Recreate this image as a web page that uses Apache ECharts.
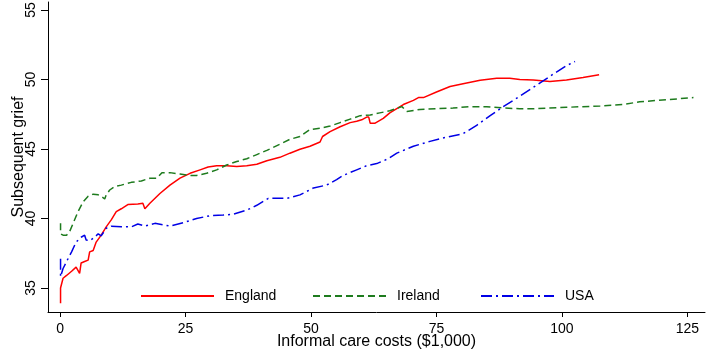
<!DOCTYPE html>
<html>
<head>
<meta charset="utf-8">
<script src="https://cdn.jsdelivr.net/npm/echarts@6/dist/echarts.min.js"></script>
<style>html,body{margin:0;padding:0;background:#fff}#c{width:709px;height:352px}</style>
</head>
<body>
<div id="c"></div>
<script>
const xTicks = [0, 25, 50, 75, 100, 125];
const yTicks = [35, 40, 45, 50, 55];

const englandX = [0.1, 0.1, 0.6, 1.3, 2.3, 3.2, 3.9, 4.2, 4.9, 5.6, 5.9, 6.6, 7.2, 8.2, 9.2, 10.2, 11.2, 12.2, 13.5, 15.5, 16.5, 16.9, 17.9, 19.9, 21.9, 23.9, 25.9, 27.9, 29.5, 31.2, 33.2, 35.2, 37.2, 39.2, 41.2, 43.8, 45.8, 47.8, 49.8, 51.8, 52.3, 53.8, 55.8, 57.8, 59.1, 60.1, 61.1, 61.5, 61.8, 62.7, 64.4, 65.7, 68.4, 70.4, 71.4, 72.4, 75.0, 77.7, 80.3, 83.7, 87.0, 89.6, 91.6, 94.3, 97.6, 100.9, 104.2, 107.4];
const englandY = [33.9, 35.0, 35.7, 35.9, 36.2, 36.5, 36.05, 36.8, 36.9, 37.0, 37.6, 37.7, 38.3, 38.8, 39.4, 39.9, 40.5, 40.7, 41.0, 41.05, 41.1, 40.7, 41.1, 41.8, 42.4, 42.9, 43.25, 43.5, 43.7, 43.8, 43.8, 43.75, 43.8, 43.9, 44.15, 44.4, 44.7, 44.98, 45.2, 45.5, 45.9, 46.25, 46.6, 46.9, 47.0, 47.1, 47.3, 47.3, 46.85, 46.85, 47.2, 47.6, 48.2, 48.5, 48.7, 48.7, 49.1, 49.5, 49.7, 49.95, 50.1, 50.1, 50.0, 49.96, 49.85, 49.96, 50.15, 50.35];

const irelandX = [0.1, 0.1, 0.6, 1.3, 1.9, 2.6, 3.6, 4.6, 5.6, 6.6, 7.6, 8.2, 8.9, 9.2, 9.9, 10.9, 12.2, 14.2, 16.2, 17.9, 19.3, 20.3, 21.9, 23.9, 25.9, 27.2, 29.2, 31.2, 33.2, 35.2, 37.2, 39.2, 41.2, 43.8, 45.8, 47.8, 49.8, 51.8, 53.8, 55.8, 57.8, 59.8, 61.8, 63.7, 65.7, 68.1, 69.1, 71.7, 75.0, 78.3, 81.7, 85.0, 88.3, 91.6, 94.3, 100.9, 107.6, 112.2, 115.5, 120.9, 126.2];
const irelandY = [39.65, 38.9, 38.8, 38.8, 39.05, 39.65, 40.5, 41.2, 41.6, 41.75, 41.7, 41.6, 41.4, 41.7, 42.05, 42.3, 42.4, 42.6, 42.7, 42.9, 42.9, 43.3, 43.3, 43.2, 43.1, 43.1, 43.25, 43.5, 43.85, 44.1, 44.3, 44.6, 44.9, 45.35, 45.7, 45.9, 46.4, 46.5, 46.65, 46.9, 47.15, 47.4, 47.45, 47.6, 47.75, 48.05, 47.7, 47.85, 47.9, 47.95, 48.05, 48.05, 47.95, 47.9, 47.9, 48.0, 48.1, 48.2, 48.4, 48.55, 48.7];

const usaX = [0.1, 0.1, 0.6, 1.3, 2.3, 3.2, 4.2, 4.9, 5.2, 5.9, 6.9, 7.6, 8.2, 9.2, 10.2, 12.2, 14.2, 15.5, 16.9, 18.9, 21.9, 24.6, 27.2, 29.9, 32.5, 34.5, 37.2, 39.2, 41.5, 45.2, 47.8, 50.5, 53.1, 55.1, 56.4, 59.1, 61.1, 63.1, 65.4, 67.1, 70.4, 73.7, 77.0, 80.3, 83.0, 85.7, 88.3, 91.6, 95.0, 98.3, 100.9, 102.6];
const usaY = [37.1, 35.8, 36.4, 36.9, 37.6, 38.3, 38.65, 38.8, 38.45, 38.4, 38.65, 38.9, 38.75, 39.3, 39.45, 39.4, 39.4, 39.6, 39.45, 39.65, 39.45, 39.7, 40.0, 40.2, 40.25, 40.3, 40.6, 40.95, 41.45, 41.45, 41.7, 42.2, 42.4, 42.8, 43.1, 43.5, 43.8, 43.95, 44.3, 44.7, 45.2, 45.55, 45.85, 46.1, 46.7, 47.4, 48.05, 48.8, 49.6, 50.4, 51.0, 51.3];

const seriesNames = ['England', 'Ireland', 'USA'];

function pairs(xs, ys) { return xs.map((x, i) => [x, ys[i]]); }

const FONT = 'Liberation Sans';
const chart = echarts.init(document.getElementById('c'), null, {renderer: 'canvas'});

const styles = [
  {color: '#ff0000', type: 'solid'},
  {color: '#1e7b1e', type: [7, 4]},
  {color: '#0000e6', type: [11, 4, 2, 4]}
];
const legendLefts = [140, 312, 480];

chart.setOption({
  animation: false,
  backgroundColor: '#fff',
  grid: {left: 48, top: 2, right: 4, bottom: 40, outerBoundsMode: 'none', containLabel: false},
  legend: seriesNames.map((n, i) => ({
    data: [n], left: legendLefts[i], top: 289, itemWidth: 73, itemHeight: 14, itemGap: 0,
    padding: 0,
    itemStyle: {opacity: 0},
    textStyle: {fontFamily: FONT, fontSize: 14, color: '#000', padding: [0, 0, 0, 6]}
  })),
  xAxis: {
    type: 'value', min: -2.4, max: 128.5,
    name: 'Informal care costs ($1,000)', nameLocation: 'middle', nameGap: 22, nameMoveOverlap: false,
    nameTextStyle: {fontFamily: FONT, fontSize: 16, color: '#000'},
    axisLine: {onZero: false, lineStyle: {color: '#000', width: 1}},
    axisTick: {customValues: xTicks, length: 5, lineStyle: {color: '#000'}},
    axisLabel: {customValues: xTicks, fontFamily: FONT, fontSize: 14, color: '#000', margin: 10},
    splitLine: {show: false}
  },
  yAxis: {
    type: 'value', min: 33.27, max: 55.58,
    name: 'Subsequent grief', nameLocation: 'middle', nameGap: 21, nameRotate: 90, nameMoveOverlap: false,
    nameTextStyle: {fontFamily: FONT, fontSize: 16, color: '#000'},
    axisLine: {show: true, onZero: false, lineStyle: {color: '#000', width: 1}},
    axisTick: {show: true, customValues: yTicks, length: 7, lineStyle: {color: '#000'}},
    axisLabel: {customValues: yTicks, rotate: 90, fontFamily: FONT, fontSize: 14, color: '#000', margin: 10},
    splitLine: {show: false}
  },
  series: [
    {name: 'England', data: pairs(englandX, englandY)},
    {name: 'Ireland', data: pairs(irelandX, irelandY)},
    {name: 'USA', data: pairs(usaX, usaY)}
  ].map((s, i) => ({
    type: 'line', name: s.name, data: s.data, showSymbol: false, symbol: 'none',
    lineStyle: {color: styles[i].color, type: styles[i].type, width: 1.5},
    itemStyle: {color: styles[i].color}
  }))
});
</script>
</body>
</html>
